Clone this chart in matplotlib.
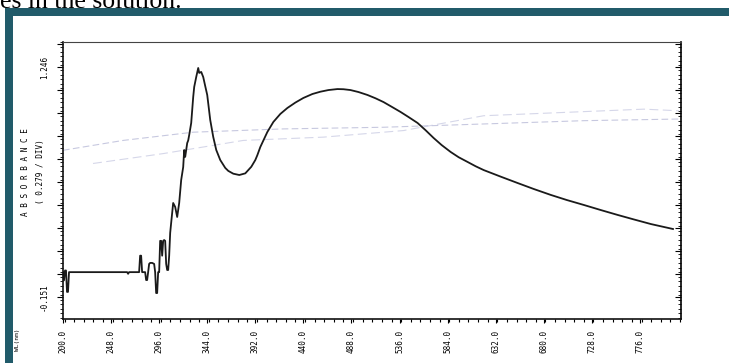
import numpy as np
import matplotlib
matplotlib.use("Agg")
import matplotlib.pyplot as plt
from matplotlib.patches import Rectangle
from matplotlib.ticker import FixedLocator, MultipleLocator

# ---------------- data ----------------
wavelength_nm = [200, 201, 202, 203, 204, 205, 206, 264, 265, 266, 276, 277, 278, 279,
                 282, 283, 284, 285, 286, 287, 289, 291, 292, 293, 294, 295, 296, 297,
                 298, 299, 300, 301, 302, 303, 304, 305, 306, 307, 308, 310, 312, 314,
                 316, 318, 320, 321, 322, 324, 325, 326, 328, 330, 331, 333, 335, 336,
                 338, 340, 342, 344, 347, 350, 353, 357, 362, 365, 370, 376, 382, 388,
                 392, 394, 397, 404, 410, 417, 424, 432, 440, 449, 457, 465, 474, 480,
                 487, 495, 504, 512, 520, 528, 537, 545, 554, 562, 570, 578, 587, 595,
                 604, 612, 620, 637, 654, 670, 687, 703, 720, 737, 754, 770, 787, 809]
absorbance = [0.0, -0.05, 0.01, 0.01, -0.12, -0.12, 0.0, 0.0, -0.01, 0.0, 0.0, 0.10, 0.10, 0.0,
              0.0, -0.048, -0.048, 0.0, 0.05, 0.056, 0.056, 0.05, 0.0, -0.127, -0.127, 0.0, 0.0, 0.19,
              0.19, 0.10, 0.19, 0.195, 0.19, 0.05, 0.013, 0.013, 0.10, 0.238, 0.30, 0.42, 0.396, 0.335,
              0.42, 0.56, 0.638, 0.742, 0.70, 0.784, 0.80, 0.833, 0.906, 1.064, 1.125, 1.185, 1.24, 1.21,
              1.216, 1.185, 1.13, 1.076, 0.924, 0.821, 0.742, 0.681, 0.633, 0.615, 0.598, 0.590, 0.600, 0.640,
              0.681, 0.71, 0.760, 0.851, 0.912, 0.961, 0.997, 1.030, 1.058, 1.082, 1.096, 1.106, 1.112, 1.111,
              1.106, 1.094, 1.076, 1.056, 1.033, 1.005, 0.973, 0.942, 0.906, 0.862, 0.815, 0.772, 0.730, 0.698,
              0.669, 0.643, 0.620, 0.580, 0.541, 0.505, 0.469, 0.438, 0.408, 0.377, 0.347, 0.320, 0.292, 0.262]

# faint show-through traces from the reverse side of the paper
ghost_a_nm = [200, 260, 330, 420, 520, 620, 720, 815]
ghost_a_val = [0.74, 0.80, 0.85, 0.87, 0.88, 0.90, 0.92, 0.93]
ghost_b_nm = [230, 300, 380, 460, 540, 620, 700, 780, 815]
ghost_b_val = [0.66, 0.72, 0.80, 0.82, 0.86, 0.95, 0.97, 0.99, 0.98]

x_tick_values = [200.0, 248.0, 296.0, 344.0, 392.0, 440.0, 488.0, 536.0, 584.0, 632.0, 680.0, 728.0, 776.0]
y_top_label = 1.246
y_bottom_label = -0.151
y_div = 0.279

# ---------------- figure ----------------
W, H = 729, 363
fig = plt.figure(figsize=(W / 100, H / 100), dpi=100)
fig.patch.set_facecolor("white")

teal = "#215B6A"
fig.patches.append(Rectangle((5 / W, 0), 8 / W, (H - 8) / H, transform=fig.transFigure,
                             facecolor=teal, edgecolor="none", zorder=0))
fig.patches.append(Rectangle((5 / W, (H - 16) / H), (W - 5) / W, 8 / H, transform=fig.transFigure,
                             facecolor=teal, edgecolor="none", zorder=0))

fig.text(0 / W, (H - 7.5) / H, "es in the solution.", family="Liberation Serif",
         fontsize=18.5, ha="left", va="baseline", color="black")

# axes
L, R, T, B = 63, 681, 42, 319
ax = fig.add_axes([L / W, (H - B) / H, (R - L) / W, (B - T) / H])
ax.set_facecolor("white")

ax.plot(ghost_a_nm, ghost_a_val, color="#b9bbd8", lw=0.8, ls=(0, (6, 3)), alpha=0.8)
ax.plot(ghost_b_nm, ghost_b_val, color="#c4c6e0", lw=0.8, ls=(0, (8, 4)), alpha=0.7)
ax.plot(wavelength_nm, absorbance, color="#1a1a1a", lw=1.3)

ax.set_xlim(200, 817)
px = (y_top_label - y_bottom_label) / 230.0
ax.set_ylim(y_bottom_label - 22 * px, y_top_label + 25 * px)

# x ticks
ax.xaxis.set_major_locator(FixedLocator(x_tick_values))
ax.set_xticklabels([f"{v:.1f}" for v in x_tick_values], rotation=90,
                   family="DejaVu Sans Mono", fontsize=5.5)
ax.xaxis.set_minor_locator(MultipleLocator(9.6))
ax.tick_params(axis="x", which="major", direction="out", length=3, width=0.8, pad=5)
ax.tick_params(axis="x", which="minor", direction="out", length=2.5, width=0.8)

# y ticks
half = y_div / 2
major_y = [y_top_label - k * half for k in range(-1, 11)]
ax.yaxis.set_major_locator(FixedLocator(major_y))
ylabels = []
for v in major_y:
    if abs(v - y_top_label) < 1e-6:
        ylabels.append(f"{y_top_label:.3f}")
    elif abs(v - y_bottom_label) < 0.01:
        ylabels.append(f"{y_bottom_label:.3f}")
    else:
        ylabels.append("")
ax.set_yticklabels(ylabels, rotation=90, va="center", family="DejaVu Sans Mono", fontsize=5.5)
ax.yaxis.set_minor_locator(MultipleLocator(y_div / 10))
ax.tick_params(axis="y", which="major", direction="out", length=4, width=0.8, pad=6)
ax.tick_params(axis="y", which="minor", direction="out", length=2, width=0.6)

sec = ax.secondary_yaxis("right")
sec.yaxis.set_major_locator(FixedLocator(major_y))
sec.yaxis.set_minor_locator(MultipleLocator(y_div / 10))
sec.tick_params(which="major", direction="in", length=4, width=0.8, labelright=False)
sec.tick_params(which="minor", direction="in", length=2, width=0.6)
sec.spines["right"].set_linewidth(1.2)

for s in ["left", "bottom"]:
    ax.spines[s].set_linewidth(1.2)
    ax.spines[s].set_color("#111111")
ax.spines["top"].set_linewidth(0.8)
ax.spines["top"].set_color("#444444")
ax.spines["right"].set_visible(False)

fig.text(26 / W, (H - 172) / H, "A B S O R B A N C E", rotation=90, ha="center", va="center",
         family="DejaVu Sans Mono", fontsize=5.5)
fig.text(40 / W, (H - 172) / H, "( 0.279 / DIV)", rotation=90, ha="center", va="center",
         family="DejaVu Sans Mono", fontsize=5.5)
fig.text(17 / W, (H - 340) / H, "WL(nm)", rotation=90, ha="center", va="center",
         family="DejaVu Sans Mono", fontsize=4.5)

fig.savefig("out.png", dpi=100, facecolor="white")
